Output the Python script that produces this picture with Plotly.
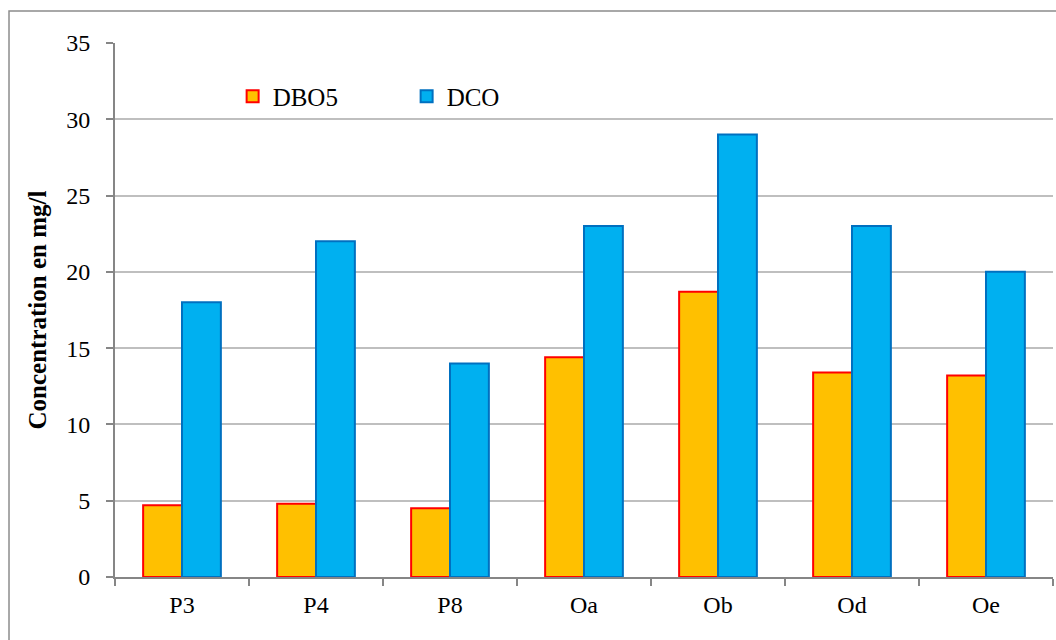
import plotly.graph_objects as go

categories = ["P3", "P4", "P8", "Oa", "Ob", "Od", "Oe"]
dbo5 = [4.7, 4.8, 4.5, 14.4, 18.7, 13.4, 13.2]
dco = [18, 22, 14, 23, 29, 23, 20]
y_ticks = [0, 5, 10, 15, 20, 25, 30, 35]

FONT = "Liberation Serif"

fig = go.Figure()
fig.add_trace(go.Bar(x=categories, y=dbo5, name="DBO5",
                     marker=dict(color="#FFC000", line=dict(color="#FF0000", width=2))))
fig.add_trace(go.Bar(x=categories, y=dco, name="DCO",
                     marker=dict(color="#00B0F0", line=dict(color="#0070C0", width=2))))

fig.update_layout(
    width=1056, height=640,
    margin=dict(l=115, r=3, t=43, b=63),
    paper_bgcolor="white", plot_bgcolor="white",
    barmode="group", bargap=0.42, bargroupgap=0,
    font=dict(family=FONT, size=24, color="black"),
    showlegend=True,
    legend=dict(orientation="h", x=0.1254, y=0.90, xanchor="left", yanchor="middle",
                font=dict(family=FONT, size=25, color="black"), entrywidth=129,
                entrywidthmode="pixels", bgcolor="rgba(0,0,0,0)"),
    shapes=[dict(type="rect", xref="paper", yref="paper", x0=-0.113, y0=-0.3, x1=1.05, y1=1.06,
                 line=dict(color="#8C8C8C", width=1.5), fillcolor="rgba(0,0,0,0)", layer="below")],
)
fig.update_xaxes(showline=True, linecolor="#868686", linewidth=2, ticks="outside", ticklen=7,
                 tickcolor="#868686", tickwidth=2, tickson="boundaries", showgrid=False,
                 tickfont=dict(family=FONT, size=24), ticklabelstandoff=5)
fig.update_yaxes(range=[0, 35], tickvals=y_ticks, showline=True, linecolor="#868686", linewidth=2,
                 ticks="outside", ticklen=7, tickcolor="#868686", tickwidth=2,
                 showgrid=True, gridcolor="#BFBFBF", gridwidth=2, zeroline=False,
                 tickfont=dict(family=FONT, size=24), ticklabelstandoff=11,
                 title=dict(text="<b>Concentration en mg/l</b>", font=dict(family=FONT, size=25), standoff=12))

fig.write_html("out.html", config={"displayModeBar": False},
               post_script="document.body.style.margin='0';document.body.style.overflow='hidden';")
